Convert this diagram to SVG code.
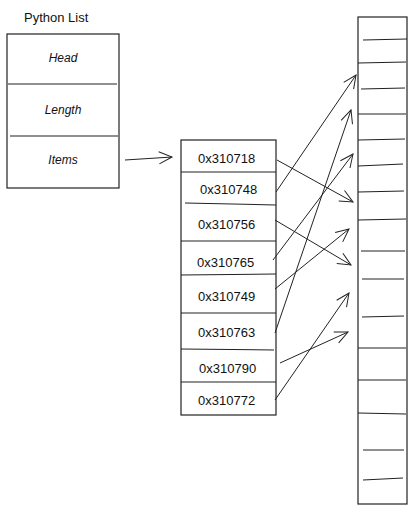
<svg xmlns="http://www.w3.org/2000/svg" width="417" height="512" viewBox="0 0 417 512">
<style>
.box{fill:#fff;stroke:#222;stroke-width:1.2}
.div{stroke:#222;stroke-width:1.1;fill:none}
.lbl{font-family:"Liberation Sans",Arial,sans-serif;font-size:13px;fill:#111}
.hand{font-family:"Liberation Sans",Arial,sans-serif;font-style:italic;font-size:12px;fill:#111}
.edge{stroke:#222;stroke-width:1;fill:none;marker-end:url(#arr)}
</style>
<defs>
<marker id="arr" markerWidth="16" markerHeight="14" refX="14" refY="7" orient="auto" markerUnits="userSpaceOnUse">
<path d="M1,1 L14,7 L1,13" fill="none" stroke="#222" stroke-width="1"/>
</marker>
</defs>
<rect width="417" height="512" fill="#fff"/>
<text class="lbl" x="24" y="22">Python List</text>
<g id="python-list">
<rect class="box" x="7" y="34" width="112" height="154"/>
<line class="div" x1="8" y1="84" x2="117" y2="84"/>
<line class="div" x1="10" y1="136" x2="118" y2="136"/>
<text class="hand" x="63" y="62" text-anchor="middle">Head</text>
<text class="hand" x="63" y="114" text-anchor="middle">Length</text>
<text class="hand" x="63" y="164" text-anchor="middle">Items</text>
</g>
<g id="addresses">
<rect class="box" x="181" y="140" width="95" height="275"/>
<line class="div" x1="181" y1="172" x2="276" y2="172"/>
<line class="div" x1="185" y1="203" x2="276" y2="205"/>
<line class="div" x1="181" y1="241" x2="276" y2="241"/>
<line class="div" x1="181" y1="275" x2="276" y2="274"/>
<line class="div" x1="181" y1="313" x2="276" y2="313"/>
<line class="div" x1="181" y1="349" x2="274" y2="350"/>
<line class="div" x1="181" y1="382" x2="276" y2="382"/>
<text class="lbl" x="198" y="163">0x310718</text>
<text class="lbl" x="200" y="194">0x310748</text>
<text class="lbl" x="198" y="229">0x310756</text>
<text class="lbl" x="197" y="267">0x310765</text>
<text class="lbl" x="198" y="301">0x310749</text>
<text class="lbl" x="198" y="337">0x310763</text>
<text class="lbl" x="199" y="373">0x310790</text>
<text class="lbl" x="198" y="405">0x310772</text>
</g>
<g id="memory">
<rect class="box" x="358" y="17" width="49" height="487"/>
<line class="div" x1="363" y1="40" x2="407" y2="39"/>
<line class="div" x1="358" y1="63" x2="406" y2="62"/>
<line class="div" x1="361" y1="89" x2="405" y2="88"/>
<line class="div" x1="358" y1="114" x2="406" y2="114"/>
<line class="div" x1="358" y1="140" x2="405" y2="139"/>
<line class="div" x1="358" y1="166" x2="403" y2="164"/>
<line class="div" x1="358" y1="192" x2="404" y2="191"/>
<line class="div" x1="358" y1="220" x2="406" y2="219"/>
<line class="div" x1="361" y1="251" x2="405" y2="251"/>
<line class="div" x1="362" y1="279" x2="404" y2="279"/>
<line class="div" x1="362" y1="317" x2="404" y2="316"/>
<line class="div" x1="358" y1="348" x2="406" y2="348"/>
<line class="div" x1="358" y1="380" x2="406" y2="380"/>
<line class="div" x1="358" y1="413" x2="406" y2="414"/>
<line class="div" x1="363" y1="450" x2="404" y2="450"/>
<line class="div" x1="363" y1="480" x2="403" y2="478"/>
</g>
<g id="connectors">
<line class="edge" x1="125" y1="160" x2="172" y2="157"/>
<line class="edge" x1="277" y1="160" x2="353" y2="202"/>
<line class="edge" x1="276" y1="192" x2="356" y2="75"/>
<line class="edge" x1="275" y1="220" x2="351" y2="265"/>
<line class="edge" x1="273" y1="260" x2="353" y2="154"/>
<line class="edge" x1="275" y1="289" x2="349" y2="229"/>
<line class="edge" x1="275" y1="333" x2="351" y2="110"/>
<line class="edge" x1="280" y1="363" x2="348" y2="332"/>
<line class="edge" x1="275" y1="400" x2="349" y2="293"/>
</g>
</svg>
